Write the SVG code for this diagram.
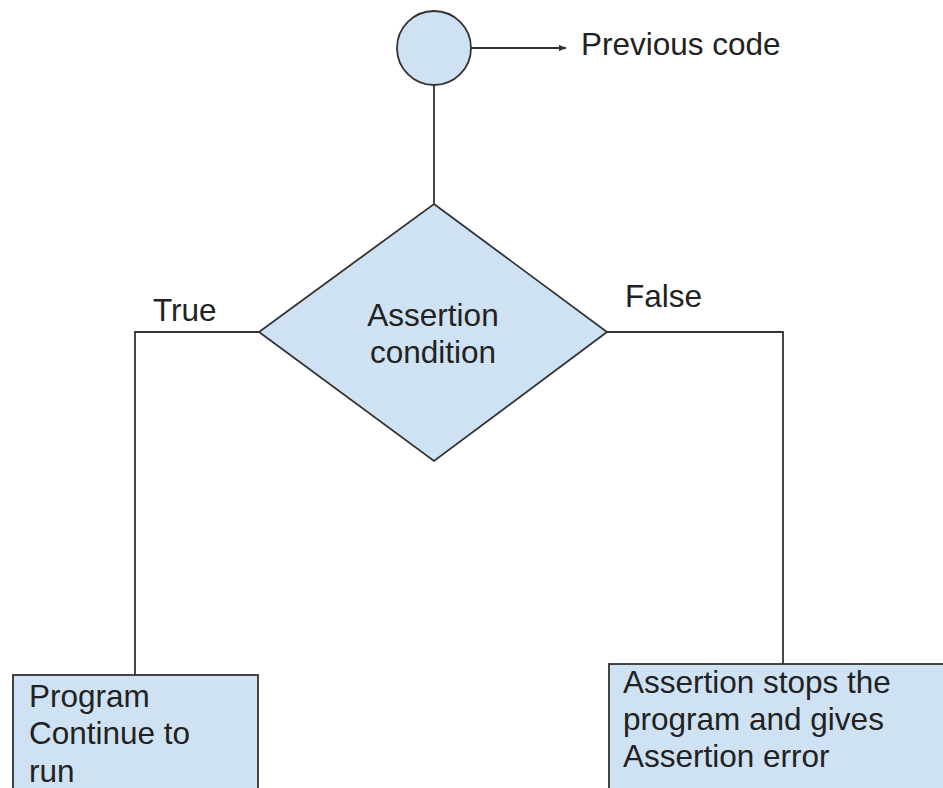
<svg xmlns="http://www.w3.org/2000/svg" width="943" height="788" viewBox="0 0 943 788">
<style>
.shape{fill:#cfe2f3;stroke:#333;stroke-width:1.8}
.conn{fill:none;stroke:#333;stroke-width:1.8}
text{font-family:"Liberation Sans",Arial,sans-serif;font-size:31.5px;fill:#222}
</style>
<defs>
<marker id="arr" viewBox="0 0 10 10" refX="9" refY="5" markerWidth="8" markerHeight="8" markerUnits="userSpaceOnUse" orient="auto">
<path d="M0,1 L10,5 L0,9 z" fill="#333"/>
</marker>
</defs>
<rect width="943" height="788" fill="#fff"/>
<g id="connectors">
<line class="conn" x1="471" y1="48" x2="566" y2="48" marker-end="url(#arr)"/>
<line class="conn" x1="434" y1="85" x2="434" y2="204"/>
<polyline class="conn" points="259,332 135,332 135,675"/>
<polyline class="conn" points="607,332 783,332 783,664"/>
</g>
<g id="start">
<circle class="shape" cx="434" cy="48" r="37"/>
</g>
<g id="previous-label"><text x="581" y="55">Previous code</text></g>
<g id="decision">
<polygon class="shape" points="434,204 607,332 434,461 259,332"/>
<text x="433" y="326" text-anchor="middle">Assertion</text>
<text x="433" y="363" text-anchor="middle">condition</text>
</g>
<g id="true-label"><text x="153" y="321">True</text></g>
<g id="false-label"><text x="625" y="307">False</text></g>
<g id="continue">
<rect class="shape" x="13" y="675" width="245" height="130"/>
<text x="29" y="707">Program</text>
<text x="29" y="744">Continue to</text>
<text x="29" y="782">run</text>
</g>
<g id="error">
<rect class="shape" x="609" y="664" width="350" height="140"/>
<text x="623" y="693">Assertion stops the</text>
<text x="623" y="730">program and gives</text>
<text x="623" y="767">Assertion error</text>
</g>
</svg>
